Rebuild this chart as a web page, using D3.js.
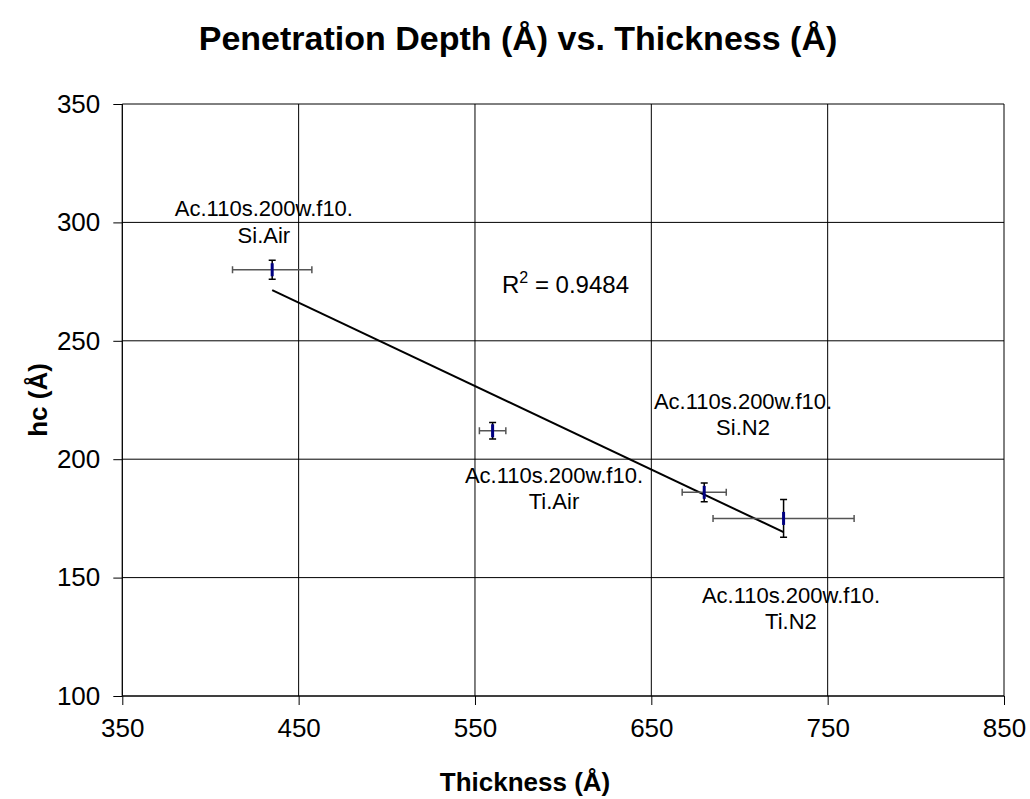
<!DOCTYPE html>
<html>
<head>
<meta charset="utf-8">
<script src="https://cdn.jsdelivr.net/npm/d3@7"></script>
<style>
  html, body { margin: 0; padding: 0; background: #fff; }
  svg { display: block; font-family: Arial, "Liberation Sans", sans-serif; }
</style>
</head>
<body>
<svg id="chart" width="1030" height="799"></svg>
<script>
// Film samples: thickness (Å), contact depth hc (Å), and their error half-widths
const sampleNames = ["Si.Air", "Ti.Air", "Si.N2", "Ti.N2"];
const labelPrefix = "Ac.110s.200w.f10.";
const thickness = [435, 560, 680, 725];
const hcDepth = [280, 212, 186, 175];
const thicknessErr = [22.5, 7.5, 12.5, 40];
const hcErr = [4, 3.5, 4, 8];

const xTicks = [350, 450, 550, 650, 750, 850];
const yTicks = [100, 150, 200, 250, 300, 350];

// Caption anchor (data units): centre of text, baseline of first line
const labelX = [430.3, 594.8, 702, 729.2];
const labelY = [302.7, 190.1, 221.2, 139.3];

const svg = d3.select("#chart");
const W = 1030, H = 799;
const plot = { left: 122.3, right: 1004, top: 104, bottom: 696 };

const x = d3.scaleLinear().domain([350, 850]).range([plot.left, plot.right]);
const y = d3.scaleLinear().domain([100, 350]).range([plot.bottom, plot.top]);

svg.append("rect").attr("width", W).attr("height", H).attr("fill", "#fff");

// Gridlines
const grid = svg.append("g");
grid.selectAll("line.h").data(yTicks).join("line")
  .attr("x1", plot.left).attr("x2", plot.right)
  .attr("y1", d => y(d)).attr("y2", d => y(d))
  .attr("stroke", "#000").attr("stroke-width", 1);
grid.selectAll("line.v").data(xTicks).join("line")
  .attr("y1", plot.top).attr("y2", plot.bottom)
  .attr("x1", d => x(d)).attr("x2", d => x(d))
  .attr("stroke", "#000").attr("stroke-width", 1);

// Axes
const xAxis = d3.axisBottom(x).tickValues(xTicks).tickSize(9).tickPadding(14).tickFormat(d3.format("d"));
const yAxis = d3.axisLeft(y).tickValues(yTicks).tickSize(9).tickPadding(13).tickFormat(d3.format("d"));

const gx = svg.append("g").attr("transform", `translate(0,${plot.bottom})`).call(xAxis);
const gy = svg.append("g").attr("transform", `translate(${plot.left},0)`).call(yAxis);
[gx, gy].forEach(g => {
  g.select(".domain").attr("stroke", "#000").attr("stroke-width", 1);
  g.selectAll(".tick line").attr("stroke", "#000").attr("stroke-width", 1);
  g.selectAll("text").attr("fill", "#000")
    .style("font-family", "Arial, 'Liberation Sans', sans-serif")
    .style("font-size", "26px");
});
gx.select(".domain").attr("d", `M${plot.left},0H${plot.right}`);
gy.select(".domain").attr("d", `M0,${plot.bottom}V${plot.top}`);

// Linear trendline over the data range
const n = thickness.length;
const mx = d3.mean(thickness), my = d3.mean(hcDepth);
let sxy = 0, sxx = 0, syy = 0;
for (let i = 0; i < n; i++) {
  sxy += (thickness[i] - mx) * (hcDepth[i] - my);
  sxx += (thickness[i] - mx) ** 2;
  syy += (hcDepth[i] - my) ** 2;
}
const slope = sxy / sxx, intercept = my - slope * mx;
const r2 = (sxy * sxy) / (sxx * syy);
const x0 = d3.min(thickness), x1 = d3.max(thickness);
svg.append("line")
  .attr("x1", x(x0)).attr("y1", y(intercept + slope * x0))
  .attr("x2", x(x1)).attr("y2", y(intercept + slope * x1))
  .attr("stroke", "#000").attr("stroke-width", 2);

// Error bars and markers
const pts = svg.append("g");
const cap = 3.5;
thickness.forEach((tx, i) => {
  const cx = x(tx), cy = y(hcDepth[i]);
  const xl = x(tx - thicknessErr[i]), xr = x(tx + thicknessErr[i]);
  const yt = y(hcDepth[i] + hcErr[i]), yb = y(hcDepth[i] - hcErr[i]);
  // horizontal bar
  pts.append("path")
    .attr("d", `M${xl},${cy}H${xr}M${xl},${cy - cap}V${cy + cap}M${xr},${cy - cap}V${cy + cap}`)
    .attr("stroke", "#555").attr("stroke-width", 1.5).attr("fill", "none");
  // vertical bar
  pts.append("path")
    .attr("d", `M${cx},${yt}V${yb}M${cx - cap},${yt}H${cx + cap}M${cx - cap},${yb}H${cx + cap}`)
    .attr("stroke", "#000").attr("stroke-width", 1.5).attr("fill", "none");
  // marker
  pts.append("rect")
    .attr("x", cx - 1.5).attr("y", cy - 6.5).attr("width", 3).attr("height", 13)
    .attr("fill", "#000080");
});

// Sample captions
const labels = svg.append("g")
  .style("font-family", "Arial, 'Liberation Sans', sans-serif")
  .style("font-size", "22px").attr("fill", "#000");
sampleNames.forEach((name, i) => {
  const t = labels.append("text")
    .attr("x", x(labelX[i])).attr("y", y(labelY[i]))
    .attr("text-anchor", "middle");
  t.append("tspan").attr("x", x(labelX[i])).text(labelPrefix);
  t.append("tspan").attr("x", x(labelX[i])).attr("dy", 26.5).text(name);
});

// R² annotation
const r2Text = svg.append("text")
  .attr("x", 502).attr("y", 292.7)
  .style("font-family", "Arial, 'Liberation Sans', sans-serif")
  .style("font-size", "24px").attr("fill", "#000");
r2Text.append("tspan").text("R");
r2Text.append("tspan").attr("dy", -10).style("font-size", "16px").text("2");
r2Text.append("tspan").attr("dy", 10).text(" = " + r2.toFixed(4));

// Titles
svg.append("text")
  .attr("x", 518).attr("y", 50).attr("text-anchor", "middle")
  .style("font-family", "Arial, 'Liberation Sans', sans-serif")
  .style("font-size", "34px").style("font-weight", "bold")
  .text("Penetration Depth (Å) vs. Thickness (Å)");

svg.append("text")
  .attr("x", 525).attr("y", 791).attr("text-anchor", "middle")
  .style("font-family", "Arial, 'Liberation Sans', sans-serif")
  .style("font-size", "26px").style("font-weight", "bold")
  .text("Thickness (Å)");

svg.append("text")
  .attr("transform", "translate(47,400) rotate(-90)").attr("text-anchor", "middle")
  .style("font-family", "Arial, 'Liberation Sans', sans-serif")
  .style("font-size", "26px").style("font-weight", "bold")
  .text("hc (Å)");
</script>
</body>
</html>
